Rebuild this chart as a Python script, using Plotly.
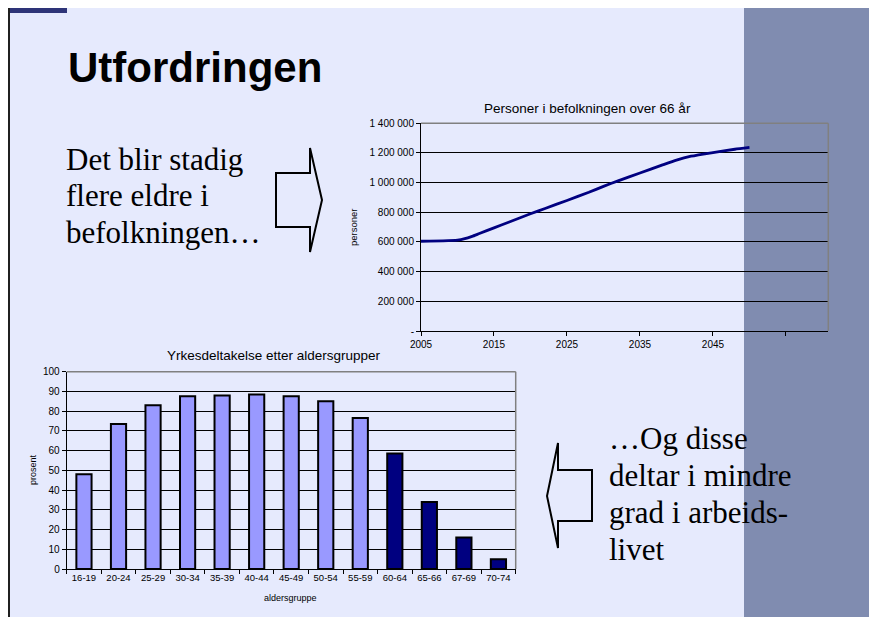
import plotly.graph_objects as go

W, H = 877, 617
OFF = 8  # default page body margin in the browser

# ---- data ----
years = [2005, 2008, 2010, 2011, 2012, 2013, 2015, 2017, 2020, 2022, 2025, 2028,
         2030, 2032, 2035, 2038, 2040, 2042, 2045, 2048, 2050]
persons = [605000, 607000, 612000, 622000, 638000, 657000, 695000, 733000, 790000,
           826000, 880000, 935000, 975000, 1012000, 1065000, 1118000, 1152000,
           1178000, 1203000, 1225000, 1237000]
line_yticks = [0, 200000, 400000, 600000, 800000, 1000000, 1200000, 1400000]
line_ytext = ["-", "200 000", "400 000", "600 000", "800 000", "1 000 000", "1 200 000", "1 400 000"]
line_xticks = [2005, 2015, 2025, 2035, 2045, 2055]
line_xtext = ["2005", "2015", "2025", "2035", "2045", ""]

age_groups = ["16-19", "20-24", "25-29", "30-34", "35-39", "40-44", "45-49",
              "50-54", "55-59", "60-64", "65-66", "67-69", "70-74"]
participation = [48, 73.5, 83, 87.5, 88, 88.5, 87.5, 85, 76.5, 58.5, 34, 16, 5]
older_groups = ["60-64", "65-66", "67-69", "70-74"]

LIGHT = "#9999FF"
DARK = "#000080"
BG = "#E6EAFD"
BAND = "#808CB0"
FONT = "Liberation Sans, Arial, sans-serif"
SERIF = "Liberation Serif, Times New Roman, serif"


def px(x):
    return (x - OFF) / W


def py(y):
    return 1 - (y - OFF) / H


fig = go.Figure()

fig.add_trace(go.Scatter(
    x=years, y=persons, mode="lines",
    line=dict(color=DARK, width=2.8, shape="spline", smoothing=0.5),
    xaxis="x", yaxis="y", showlegend=False, hoverinfo="skip"))

fig.add_trace(go.Bar(
    x=age_groups, y=participation,
    marker=dict(color=[DARK if g in older_groups else LIGHT for g in age_groups],
                line=dict(color="black", width=2)),
    width=0.44, xaxis="x2", yaxis="y2", showlegend=False, hoverinfo="skip"))

# plot areas (pixels)
L1, R1, T1, B1 = 421, 828.3, 123.3, 331
L2, R2, T2, B2 = 66.7, 515.7, 371.7, 569

tf10 = dict(family=FONT, size=10, color="black")
tf95 = dict(family=FONT, size=9.5, color="black")

fig.update_layout(
    width=W, height=H, margin=dict(l=0, r=0, t=0, b=0, pad=0, autoexpand=False),
    paper_bgcolor="white", plot_bgcolor="rgba(0,0,0,0)",
    xaxis=dict(domain=[px(L1), px(R1)], range=[2005, 2060.8], tickvals=line_xticks,
               ticktext=line_xtext, showgrid=False, zeroline=False, showline=True,
               linecolor="black", linewidth=1, ticks="outside", ticklen=4,
               tickcolor="black", tickfont=tf10, anchor="y", automargin=False),
    yaxis=dict(domain=[py(B1), py(T1)], range=[0, 1400000], tickvals=line_yticks,
               ticktext=line_ytext, showgrid=True, gridcolor="black", gridwidth=1,
               zeroline=False, showline=True, linecolor="black", linewidth=1,
               ticks="outside", ticklen=4, tickcolor="black", tickfont=tf10,
               anchor="x", automargin=False),
    xaxis2=dict(domain=[px(L2), px(R2)], type="category", range=[-0.5, 12.5],
                showgrid=False, zeroline=False, showline=True, linecolor="black",
                linewidth=1, ticks="outside", ticklen=4, tickcolor="black",
                tickson="boundaries", tickfont=tf95, anchor="y2", automargin=False),
    yaxis2=dict(domain=[py(B2), py(T2)], range=[0, 100], dtick=10, showgrid=True,
                gridcolor="black", gridwidth=1, zeroline=False, showline=True,
                linecolor="black", linewidth=1, ticks="outside", ticklen=4,
                tickcolor="black", tickfont=tf10, anchor="x2", automargin=False),
)

shapes = [
    # slide background
    dict(type="rect", xref="paper", yref="paper", x0=px(8), x1=px(W + 20), y0=py(H + 20), y1=py(8),
         fillcolor=BG, line=dict(width=0), layer="below"),
    # right band
    dict(type="rect", xref="paper", yref="paper", x0=px(744), x1=px(W + 20), y0=py(H + 20), y1=py(8),
         fillcolor=BAND, line=dict(width=0), layer="below"),
    # left dark line
    dict(type="rect", xref="paper", yref="paper", x0=px(8), x1=px(10), y0=py(H + 20), y1=py(8),
         fillcolor="#202020", line=dict(width=0), layer="below"),
    # top-left dark blue bar
    dict(type="rect", xref="paper", yref="paper", x0=px(10), x1=px(67), y0=py(13), y1=py(8),
         fillcolor="#2E3478", line=dict(width=0), layer="below"),
]

# gray top/right borders of plot areas
for (L, R, T, B) in [(L1, R1, T1, B1), (L2, R2, T2, B2)]:
    shapes.append(dict(type="line", xref="paper", yref="paper", x0=px(L), x1=px(R),
                       y0=py(T), y1=py(T), line=dict(color="#808080", width=1.5), layer="above"))
    shapes.append(dict(type="line", xref="paper", yref="paper", x0=px(R), x1=px(R),
                       y0=py(T), y1=py(B), line=dict(color="#808080", width=1.5), layer="above"))


def path(points):
    s = "M " + " L ".join(f"{px(x):.5f},{py(y):.5f}" for x, y in points) + " Z"
    return s


# right-pointing block arrow
shapes.append(dict(type="path", xref="paper", yref="paper",
                   path=path([(276, 173), (310, 173), (310, 148), (322, 200), (310, 252),
                              (310, 227), (276, 227)]),
                   line=dict(color="black", width=2), fillcolor="rgba(0,0,0,0)"))
# left-pointing block arrow
shapes.append(dict(type="path", xref="paper", yref="paper",
                   path=path([(592, 470), (558, 470), (558, 443), (547, 496), (558, 548),
                              (558, 521), (592, 521)]),
                   line=dict(color="black", width=2), fillcolor="rgba(0,0,0,0)"))

fig.update_layout(shapes=shapes)

ann = []


def text(x, y, t, size, family=FONT, xanchor="left", yanchor="middle", angle=0, bold=False):
    if bold:
        t = "<b>" + t + "</b>"
    ann.append(dict(x=px(x), y=py(y), xref="paper", yref="paper", text=t, showarrow=False,
                    xanchor=xanchor, yanchor=yanchor, textangle=angle,
                    font=dict(family=family, size=size, color="black")))


text(66, 68, "Utfordringen", 42, bold=True)

for i, line in enumerate(["Det blir stadig", "flere eldre i", "befolkningen…"]):
    text(64, 159 + i * 36.5, line, 31, family=SERIF)

for i, line in enumerate(["…Og disse", "deltar i mindre", "grad i arbeids-", "livet"]):
    text(607, 438 + i * 37, line, 31, family=SERIF)

text(587.5, 109, "Personer i befolkningen over 66 år", 13.5, xanchor="center")
text(273.5, 355, "Yrkesdeltakelse etter aldersgrupper", 13.5, xanchor="center")
text(353, 227, "personer", 9.5, xanchor="center", angle=-90)
text(33, 470, "prosent", 9, xanchor="center", angle=-90)
text(290, 598, "aldersgruppe", 9, xanchor="center")

fig.update_layout(annotations=ann)

fig.write_html("out.html")
